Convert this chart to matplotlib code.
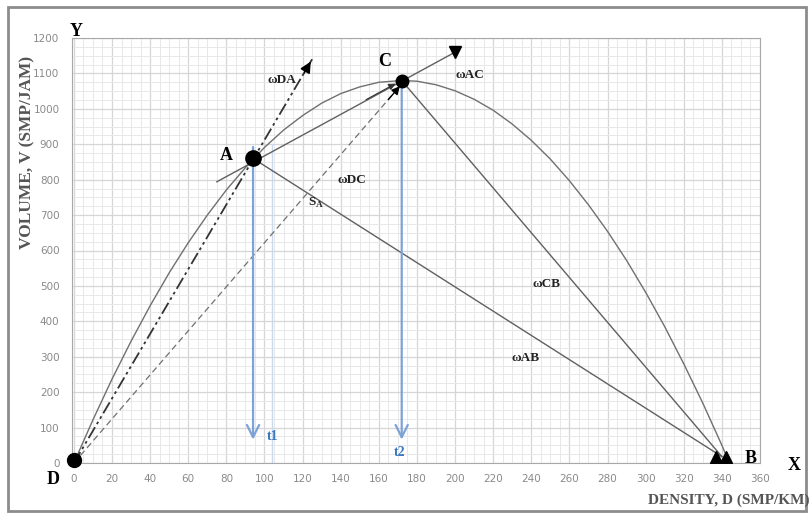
import numpy as np
import matplotlib
matplotlib.use('Agg')
import matplotlib.pyplot as plt
from matplotlib.patches import Rectangle

# Volume-density curve
curve_d = [0, 10, 20, 30, 40, 50, 60, 70, 80, 90, 100, 110, 120, 130, 140, 150, 160,
           172, 180, 190, 200, 210, 220, 230, 240, 250, 260, 270, 280, 290, 300,
           310, 320, 330, 340, 343]
curve_v = [0, 122, 237, 344, 444, 537, 622, 700, 771, 834, 891, 940, 981, 1016, 1043,
           1062, 1075, 1080, 1078, 1068, 1051, 1027, 996, 957, 911, 858, 797, 729,
           654, 572, 482, 385, 280, 169, 50, 12]

# Key points
pt_names = ['D', 'A', 'C', 'B']
pt_d = [0, 94, 172, 340]
pt_v = [8, 860, 1080, 18]

# Wave lines
da_end = (125, 1140)
ac_start = (75, 794)
ac_end = (200, 1160)
t_top = [900, 1075]
t_bottom = [58, 58]
t_x = [94, 172]

x_ticks = list(range(0, 361, 20))
y_ticks = list(range(0, 1201, 100))

serif = ['Liberation Serif', 'DejaVu Serif']

fig = plt.figure(figsize=(8.09, 5.16), dpi=100)
ax = fig.add_axes([72 / 809, 1 - 463 / 516, (760 - 72) / 809, (463 - 38) / 516])

# Grid
ax.set_xlim(-1, 360)
ax.set_ylim(0, 1200)
ax.set_xticks(x_ticks)
ax.set_yticks(y_ticks)
ax.set_xticks(np.arange(0, 361, 5), minor=True)
ax.set_yticks(np.arange(0, 1201, 25), minor=True)
ax.grid(which='major', color='#d6d6d6', lw=0.9)
ax.grid(which='minor', color='#e8e8e8', lw=0.7)
ax.set_axisbelow(True)
for s in ax.spines.values():
    s.set_color('#a8a8a8')
ax.tick_params(which='both', length=0, labelsize=7.5, labelcolor='#8a8a8a')
ax.tick_params(axis='x', pad=8)
ax.tick_params(axis='y', pad=9)

# Curve
ax.plot(curve_d, curve_v, color='#707070', lw=1.0, zorder=3)

D, A, C, B = [(pt_d[i], pt_v[i]) for i in range(4)]

# omega DA (dash-dot-dot)
ax.plot([0, da_end[0]], [0, da_end[1]], color='#333333', lw=1.3,
        dashes=(7, 2, 1.5, 2, 1.5, 2), zorder=3)
ax.annotate('', xy=da_end, xytext=(da_end[0] - 5, da_end[1] - 46),
            arrowprops=dict(arrowstyle='-|>', mutation_scale=16, color='black', lw=1.2))

# omega DC (dashed)
ax.plot([0, C[0]], [0, C[1] - 10], color='#707070', lw=0.9, dashes=(5, 3), zorder=3)
ax.annotate('', xy=(C[0], C[1] - 10), xytext=(C[0] - 8, C[1] - 60),
            arrowprops=dict(arrowstyle='-|>', mutation_scale=12, color='black', lw=1))

# omega AC
ax.plot([ac_start[0], ac_end[0]], [ac_start[1], ac_end[1]], color='#606060', lw=1.0, zorder=3)
ax.plot([ac_end[0]], [ac_end[1]], marker='v', color='black', ms=9, clip_on=False, zorder=5)
ax.annotate('', xy=(C[0] - 2, C[1] - 5), xytext=(C[0] - 20, C[1] - 58),
            arrowprops=dict(arrowstyle='-|>', mutation_scale=10, color='#333333', lw=0.8))

# omega AB, omega CB
ax.plot([A[0], B[0]], [A[1], B[1]], color='#606060', lw=1.0, zorder=3)
ax.plot([C[0], B[0]], [C[1], B[1]], color='#606060', lw=1.0, zorder=3)

# t1, t2 arrows
ax.plot([104, 104], [0, 900], color='#c9d8ee', lw=1.0, zorder=2)
for x0, top, bot in zip(t_x, t_top, t_bottom):
    ax.annotate('', xy=(x0, bot), xytext=(x0, top),
                arrowprops=dict(arrowstyle='->', mutation_scale=22, color='#7da3d6', lw=1.6))

# Points
ax.plot([D[0]], [D[1]], marker='o', color='black', ms=10, clip_on=False, zorder=6)
ax.plot([A[0]], [A[1]], marker='o', color='black', ms=11, zorder=6)
ax.plot([C[0]], [C[1]], marker='o', color='black', ms=9, zorder=6)
ax.plot([B[0] - 3, B[0] + 2], [B[1], B[1]], marker='^', ls='none', color='black', ms=9, zorder=6)

# Labels
big = dict(family=serif, fontweight='bold', fontsize=13, color='black')
ax.text(80, 868, 'A', ha='center', va='center', **big)
ax.text(163, 1135, 'C', ha='center', va='center', **big)
ax.text(355, 14, 'B', ha='center', va='center', **big)
ax.text(-11, -48, 'D', ha='center', va='center', clip_on=False, **big)
ax.text(1, 1218, 'Y', ha='center', va='center', clip_on=False, **big)
ax.text(378, -8, 'X', ha='center', va='center', clip_on=False, **big)

small = dict(family=serif, fontweight='bold', fontsize=9.5, color='#222222',
             ha='center', va='center')
ax.text(109, 1082, 'ωDA', **small)
ax.text(146, 800, 'ωDC', **small)
ax.text(127, 733, 'S$_\\mathregular{A}$', **small)
ax.text(208, 1096, 'ωAC', **small)
ax.text(248, 506, 'ωCB', **small)
ax.text(237, 297, 'ωAB', **small)
ax.text(104, 74, 't1', family=serif, fontweight='bold', fontsize=10, color='#3a78c0',
        ha='center', va='center')
ax.text(171, 31, 't2', family=serif, fontweight='bold', fontsize=10, color='#3a78c0',
        ha='center', va='center')

fig.text(27 / 809, 1 - 152 / 516, 'VOLUME, V (SMP/JAM)', rotation=90, ha='center',
         va='center', family=serif, fontweight='bold', fontsize=12.5, color='#555555')
fig.text(809 / 809, 1 - 500 / 516, 'DENSITY, D (SMP/KM)', ha='right', va='center',
         family=serif, fontweight='bold', fontsize=11, color='#555555')

# Outer frame
fig.patches.append(Rectangle((8 / 809, 1 - 511 / 516), (806 - 8) / 809, (511 - 7) / 516,
                             transform=fig.transFigure, fill=False, ec='#8c8c8c', lw=2))

fig.savefig('out.png', dpi=100)
